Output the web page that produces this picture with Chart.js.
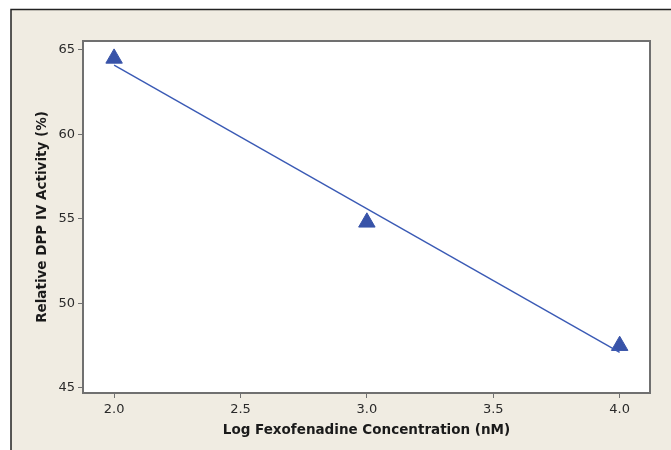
<!DOCTYPE html>
<html>
<head>
<meta charset="utf-8">
<script src="https://cdn.jsdelivr.net/npm/chart.js@4"></script>
<style>
  html, body { margin: 0; padding: 0; background: #ffffff; }
  #wrap { width: 671px; height: 450px; }
</style>
</head>
<body>
<div id="wrap"><canvas id="fexoChart" width="671" height="450"></canvas></div>
<script>
// Measured points (log concentration vs relative activity)
const logConc = [2.0, 3.0, 4.0];
const activity = [64.5, 54.8, 47.5];

// Fitted line end points
const fitX = [2.0, 4.0];
const fitY = [64.1, 47.1];

const xTicks = [2.0, 2.5, 3.0, 3.5, 4.0];
const yTicks = [45, 50, 55, 60, 65];

const frameColor = '#707070';

// Beige panel, outer frame and white plot box
const panelPlugin = {
    id: 'panel',
    beforeDraw(chart) {
        const ctx = chart.ctx;
        const a = chart.chartArea;
        ctx.save();
        ctx.fillStyle = '#ffffff';
        ctx.fillRect(0, 0, chart.width, chart.height);
        ctx.fillStyle = '#f0ece2';
        ctx.fillRect(11, 9, chart.width - 11, chart.height - 9);
        ctx.strokeStyle = '#222222';
        ctx.lineWidth = 1.5;
        ctx.beginPath();
        ctx.moveTo(11, chart.height);
        ctx.lineTo(11, 9.5);
        ctx.lineTo(chart.width, 9.5);
        ctx.stroke();
        ctx.fillStyle = '#ffffff';
        ctx.fillRect(a.left, a.top, a.right - a.left, a.bottom - a.top);
        ctx.restore();
    },
    afterDraw(chart) {
        const ctx = chart.ctx;
        const a = chart.chartArea;
        ctx.save();
        ctx.strokeStyle = frameColor;
        ctx.lineWidth = 2;
        ctx.strokeRect(a.left, a.top, a.right - a.left, a.bottom - a.top);
        ctx.restore();
    }
};

const ctx = document.getElementById('fexoChart').getContext('2d');
new Chart(ctx, {
    type: 'scatter',
    data: {
        datasets: [
            {
                label: 'Fit',
                data: fitX.map((x, i) => ({ x: x, y: fitY[i] })),
                showLine: true,
                borderColor: '#3a5ab5',
                borderWidth: 1.4,
                pointRadius: 0,
                fill: false
            },
            {
                label: 'Activity',
                data: logConc.map((x, i) => ({ x: x, y: activity[i] })),
                pointStyle: 'triangle',
                pointRadius: 9.5,
                backgroundColor: '#3853a8',
                borderColor: '#3853a8',
                borderWidth: 1
            }
        ]
    },
    options: {
        responsive: false,
        animation: false,
        layout: { padding: { top: 41, right: 21, left: 0, bottom: 0 } },
        plugins: {
            legend: { display: false },
            tooltip: { enabled: false }
        },
        scales: {
            x: {
                type: 'linear',
                min: 1.877,
                max: 4.12,
                afterFit(scale) { scale.height = 57; },
                afterBuildTicks(scale) { scale.ticks = xTicks.map(v => ({ value: v })); },
                border: { display: false },
                grid: { drawOnChartArea: false, drawTicks: true, tickLength: 5, tickColor: frameColor, lineWidth: 1 },
                ticks: {
                    includeBounds: false,
                    padding: 4,
                    color: '#2a2a2a',
                    font: { family: 'DejaVu Sans', size: 13 },
                    callback: v => Number(v).toFixed(1)
                },
                title: {
                    display: true,
                    text: 'Log Fexofenadine Concentration (nM)',
                    color: '#1a1a1a',
                    font: { family: 'DejaVu Sans', size: 13.5, weight: 'bold' },
                    padding: { top: 0, bottom: 11 }
                }
            },
            y: {
                type: 'linear',
                min: 44.7,
                max: 65.53,
                afterFit(scale) { scale.width = 83; },
                afterBuildTicks(scale) { scale.ticks = yTicks.map(v => ({ value: v })); },
                border: { display: false },
                grid: { drawOnChartArea: false, drawTicks: true, tickLength: 5, tickColor: frameColor, lineWidth: 1 },
                ticks: {
                    includeBounds: false,
                    padding: 3,
                    color: '#2a2a2a',
                    font: { family: 'DejaVu Sans', size: 13 }
                },
                title: {
                    display: true,
                    text: 'Relative DPP IV Activity (%)',
                    color: '#1a1a1a',
                    font: { family: 'DejaVu Sans', size: 13.5, weight: 'bold' },
                    padding: { top: 34, bottom: 0 }
                }
            }
        }
    },
    plugins: [panelPlugin]
});
</script>
</body>
</html>
